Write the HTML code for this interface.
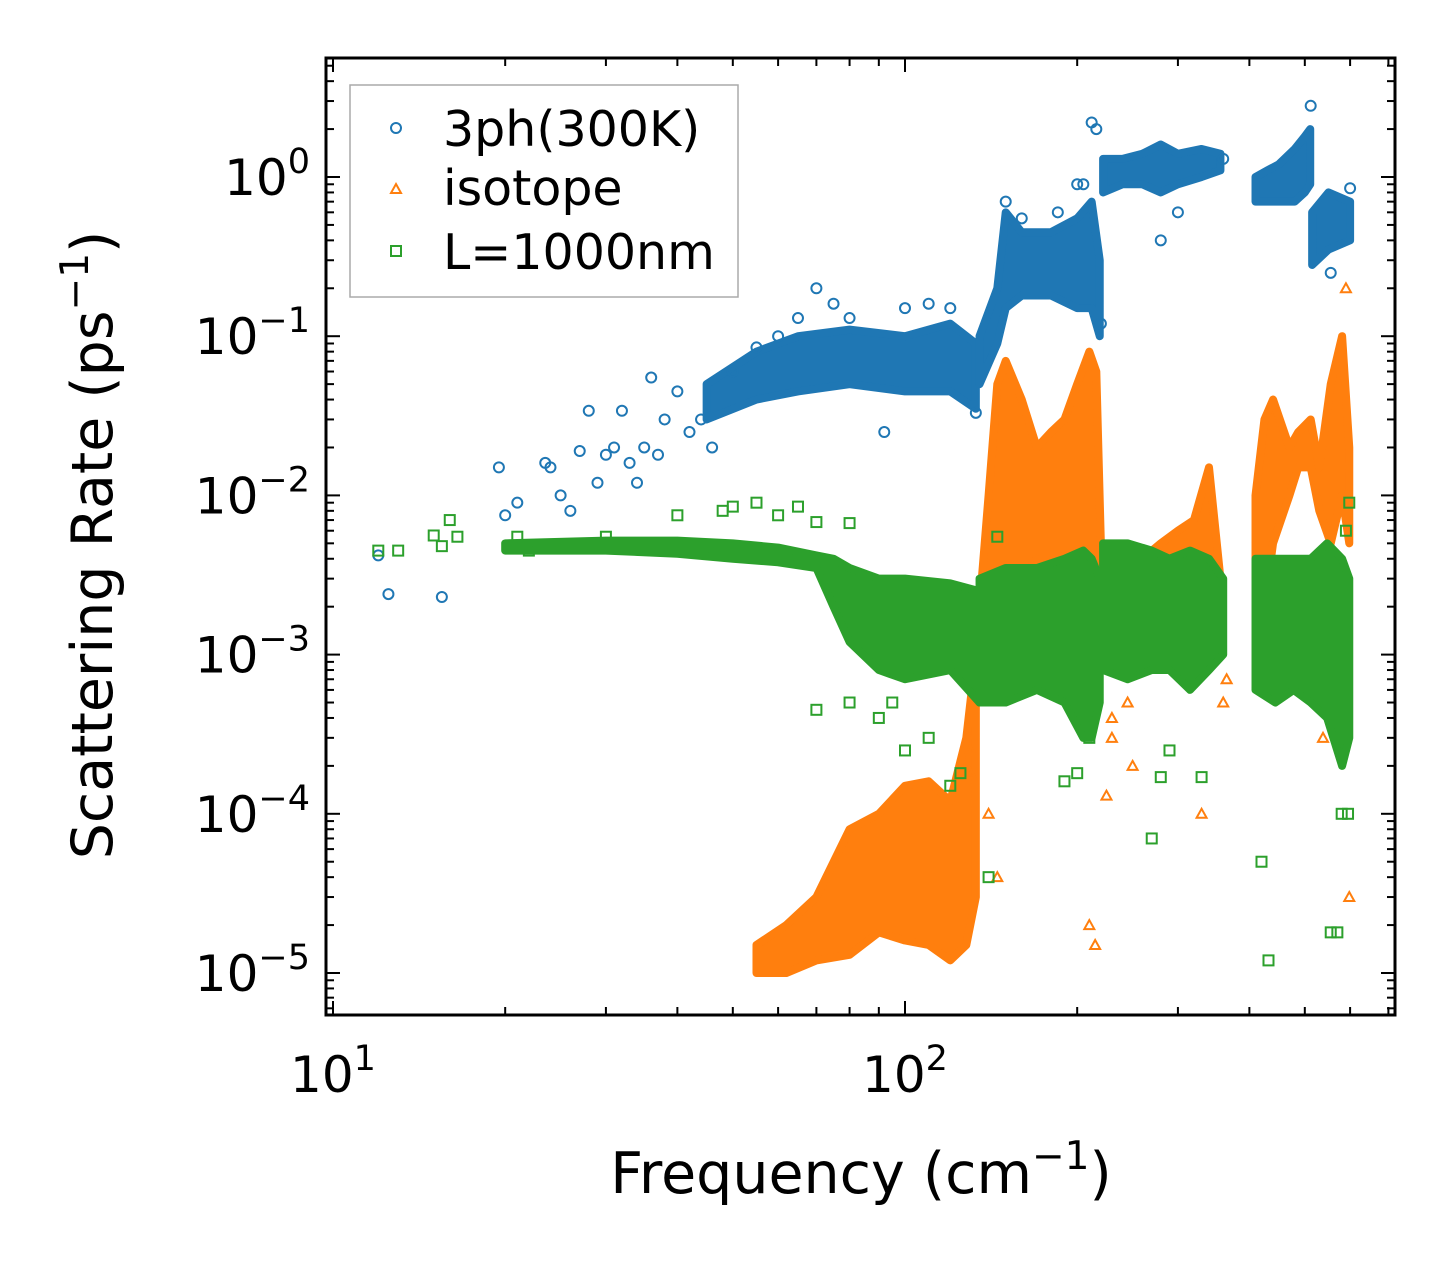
<!DOCTYPE html>
<html><head><meta charset="utf-8"><style>
html,body{margin:0;padding:0;background:#fff;}
svg{display:block;font-family:"DejaVu Sans","Liberation Sans",sans-serif;}
</style></head><body>
<svg id="chart" width="1455" height="1265" viewBox="0 0 1455 1265" xmlns="http://www.w3.org/2000/svg">
<rect width="1455" height="1265" fill="#fff"/>
<g id="marks"></g>
<g id="axes"></g>
<text x="861" y="1193" font-size="57" text-anchor="middle">Frequency (cm<tspan dy="-24" font-size="39">−1</tspan><tspan dy="24">)</tspan></text>
<text transform="translate(112,545) rotate(-90)" font-size="57" text-anchor="middle">Scattering Rate (ps<tspan dy="-24" font-size="39">−1</tspan><tspan dy="24">)</tspan></text>
<g>
<rect x="350" y="85" width="388" height="212" fill="#fff" stroke="#aaa" stroke-width="1.5"/>
<circle cx="396" cy="128" r="5" fill="none" stroke="#1f77b4" stroke-width="2"/>
<text x="443" y="146" font-size="49">3ph(300K)</text>
<polygon points="396,184 401,193 391,193" fill="none" stroke="#ff7f0e" stroke-width="2"/>
<text x="443" y="205" font-size="49">isotope</text>
<rect x="391" y="246" width="10" height="10" fill="none" stroke="#2ca02c" stroke-width="2"/>
<text x="443" y="269" font-size="49">L=1000nm</text>
</g>
</svg>
<script>
// ---- data ----
const blueBandF=[[45,55,65,80,100,120,133],[135,145,150,160,180,200,212,219],[222,240,260,280,300,330,356],[410,430,450,480,500,511],[515,550,600]];
const blueBandLo=[[0.03,0.04,0.045,0.05,0.045,0.045,0.035],[0.05,0.09,0.15,0.18,0.18,0.15,0.15,0.1],[0.8,0.9,0.9,0.8,0.9,1.0,1.1],[0.7,0.7,0.7,0.7,0.8,0.9],[0.28,0.35,0.4]];
const blueBandHi=[[0.05,0.08,0.1,0.11,0.1,0.12,0.09],[0.1,0.2,0.6,0.45,0.45,0.55,0.7,0.3],[1.3,1.3,1.4,1.6,1.4,1.5,1.4],[1.0,1.1,1.2,1.5,1.8,2.0],[0.6,0.8,0.7]];
const bluePtsF=[12,12.5,15.5,19.5,20,21,22,23.5,24,25,26,27,28,29,30,31,32,33,34,35,36,37,38,40,42,44,46,50,55,60,65,70,75,80,92,100,110,120,133,200,212,216,220,280,300,360,512,555,600,150,160,185,205];
const bluePtsV=[0.0042,0.0024,0.0023,0.015,0.0075,0.009,0.0048,0.016,0.015,0.01,0.008,0.019,0.034,0.012,0.018,0.02,0.034,0.016,0.012,0.02,0.055,0.018,0.03,0.045,0.025,0.03,0.02,0.06,0.085,0.1,0.13,0.2,0.16,0.13,0.025,0.15,0.16,0.15,0.033,0.9,2.2,2.0,0.12,0.4,0.6,1.3,2.8,0.25,0.85,0.7,0.55,0.6,0.9];
const orangeBandF=[[55,62,70,80,90,100,110,120,128,133],[135,140,145,150,160,170,180,190,200,210,216,220],[222,240,260,280,300,320,340,356],[410,425,440,470,487,512,530,555,581,598]];
const orangeBandLo=[[1e-5,1e-5,1.2e-5,1.3e-5,1.8e-5,1.6e-5,1.5e-5,1.2e-5,1.5e-5,3e-5],[5e-4,1.5e-3,3e-3,3e-3,3e-3,4e-3,3e-3,2e-3,3e-3,3e-3,2e-3,1e-3],[8e-4,8e-4,1e-3,1e-3,1.2e-3,1.5e-3,2e-3,1.5e-3],[3e-3,2e-3,5e-3,1e-2,1.5e-2,1.5e-2,8e-3,5e-3,1e-2,5e-3]];
const orangeBandHi=[[1.5e-5,2e-5,3e-5,8e-5,1e-4,1.5e-4,1.6e-4,1.2e-4,3e-4,1e-3],[2e-3,1e-2,5e-2,7e-2,4e-2,2e-2,2.5e-2,3e-2,5e-2,8e-2,6e-2,5e-3],[2e-3,3e-3,4e-3,5e-3,6e-3,7e-3,1.5e-2,3e-3],[1e-2,3e-2,4e-2,2e-2,2.5e-2,3e-2,1.5e-2,5e-2,1e-1,2e-2]];
const orangePtsF=[130,130,140,145,225,230,245,250,330,360,538,598,230,210,215,512,590,365];
const orangePtsV=[0.00025,0.00018,0.0001,0.00004,0.00013,0.0004,0.0005,0.0002,0.0001,0.0005,0.0003,0.00003,0.0003,0.00002,0.000015,0.0025,0.2,0.0007];
const greenBandF=[[20,30,40,50,60,70,75,80,90,100,120,135],[135,150,170,190,205,212,219],[222,245,270,290,315,340,360],[410,444,478,512,547,581,598]];
const greenBandLo=[[4.5e-3,4.5e-3,4.3e-3,4e-3,3.8e-3,3.5e-3,2e-3,1.2e-3,8e-4,7e-4,8e-4,5e-4],[5e-4,5e-4,6e-4,5e-4,3e-4,3e-4,5e-4],[8e-4,7e-4,8e-4,8e-4,6e-4,8e-4,1e-3],[6e-4,5e-4,6e-4,5e-4,4e-4,2e-4,3e-4]];
const greenBandHi=[[5e-3,5.2e-3,5.2e-3,5e-3,4.7e-3,4.2e-3,4e-3,3.5e-3,3e-3,3e-3,2.8e-3,2.5e-3],[3e-3,3.5e-3,3.5e-3,4e-3,4.5e-3,4e-3,3e-3],[5e-3,5e-3,4.5e-3,4e-3,4.5e-3,4e-3,3e-3],[4e-3,4e-3,4e-3,4e-3,5e-3,4e-3,3e-3]];
const greenPtsF=[12,13,15,15.5,16,16.5,21,22,30,40,48,50,55,60,65,70,80,70,80,90,95,100,110,120,125,140,145,190,200,210,270,280,290,330,420,432,555,570,580,595,598,590];
const greenPtsV=[0.0045,0.0045,0.0056,0.0048,0.007,0.0055,0.0055,0.0045,0.0055,0.0075,0.008,0.0085,0.009,0.0075,0.0085,0.0068,0.0067,0.00045,0.0005,0.0004,0.0005,0.00025,0.0003,0.00015,0.00018,0.00004,0.0055,0.00016,0.00018,0.0003,0.00007,0.00017,0.00025,0.00017,0.00005,0.000012,0.000018,0.000018,0.0001,0.0001,0.009,0.006];
const xMajorTicks=[10,100];
const xTickLabels=["1","2"];
const yMajorTicks=[1e-5,1e-4,1e-3,1e-2,1e-1,1];
const yTickLabels=["−5","−4","−3","−2","−1","0"];

// ---- axes ----
const L=326,R=1395,T=58,B=1015;
const X0=333,XD=572,Y0=177,YD=159.2;
function sx(f){return X0+(Math.log10(f)-1)*XD;}
function sy(v){return Y0-Math.log10(v)*YD;}
const NS="http://www.w3.org/2000/svg";
function mk(tag,attrs,parent){const e=document.createElementNS(NS,tag);for(const k in attrs)e.setAttribute(k,attrs[k]);parent.appendChild(e);return e;}
const marks=document.getElementById('marks');
const axes=document.getElementById('axes');

function drawSeries(name,color,bf,blo,bhi,pf,pv,shape){
  const g=mk('g',{},marks);
  
  
  bf.forEach((fs,i)=>{
    let pts=fs.map((f,j)=>sx(f)+','+sy(bhi[i][j]));
    for(let j=fs.length-1;j>=0;j--)pts.push(sx(fs[j])+','+sy(blo[i][j]));
    const p=mk('polygon',{points:pts.join(' '),fill:color,stroke:color,'stroke-width':8,'stroke-linejoin':'round'},g);
    
    
  });
  pf.forEach((f,i)=>{
    const x=sx(f),y=sy(pv[i]);let e;
    if(shape==='c')e=mk('circle',{cx:x,cy:y,r:5,fill:'none',stroke:color,'stroke-width':2},g);
    else if(shape==='t')e=mk('polygon',{points:`${x},${y-5} ${x+5},${y+4} ${x-5},${y+4}`,fill:'none',stroke:color,'stroke-width':2},g);
    else e=mk('rect',{x:x-5,y:y-5,width:10,height:10,fill:'none',stroke:color,'stroke-width':2},g);
    
    
  });
}
drawSeries('3ph','#1f77b4',blueBandF,blueBandLo,blueBandHi,bluePtsF,bluePtsV,'c');
drawSeries('isotope','#ff7f0e',orangeBandF,orangeBandLo,orangeBandHi,orangePtsF,orangePtsV,'t');
drawSeries('boundary','#2ca02c',greenBandF,greenBandLo,greenBandHi,greenPtsF,greenPtsV,'s');

const frame=mk('rect',{x:L,y:T,width:R-L,height:B-T,fill:'none',stroke:'#000','stroke-width':3},axes);


for(let d=10;d<=100;d*=10)for(let m=1;m<10;m++){
  const f=d*m;const x=sx(f);if(x<L||x>R)continue;
  const len=m===1?14:8;
  mk('line',{x1:x,y1:B,x2:x,y2:B-len,stroke:'#000','stroke-width':2},axes);
  mk('line',{x1:x,y1:T,x2:x,y2:T+len,stroke:'#000','stroke-width':2},axes);
}
xMajorTicks.forEach((f,i)=>{
  const t=mk('text',{x:sx(f),y:1092,'font-size':50,'text-anchor':'middle'},axes);
  
  
  t.innerHTML='10<tspan dy="-22" font-size="35">'+xTickLabels[i]+'</tspan>';
});
for(let e=-6;e<=1;e++)for(let m=1;m<10;m++){
  const v=m*Math.pow(10,e);const y=sy(v);if(y<T||y>B)continue;
  const len=m===1?14:8;
  mk('line',{x1:L,y1:y,x2:L+len,y2:y,stroke:'#000','stroke-width':2},axes);
  mk('line',{x1:R,y1:y,x2:R-len,y2:y,stroke:'#000','stroke-width':2},axes);
}
yMajorTicks.forEach((v,i)=>{
  const t=mk('text',{x:310,y:sy(v)+18,'font-size':50,'text-anchor':'end'},axes);
  
  
  t.innerHTML='10<tspan dy="-22" font-size="35">'+yTickLabels[i]+'</tspan>';
});
</script>
</body></html>
